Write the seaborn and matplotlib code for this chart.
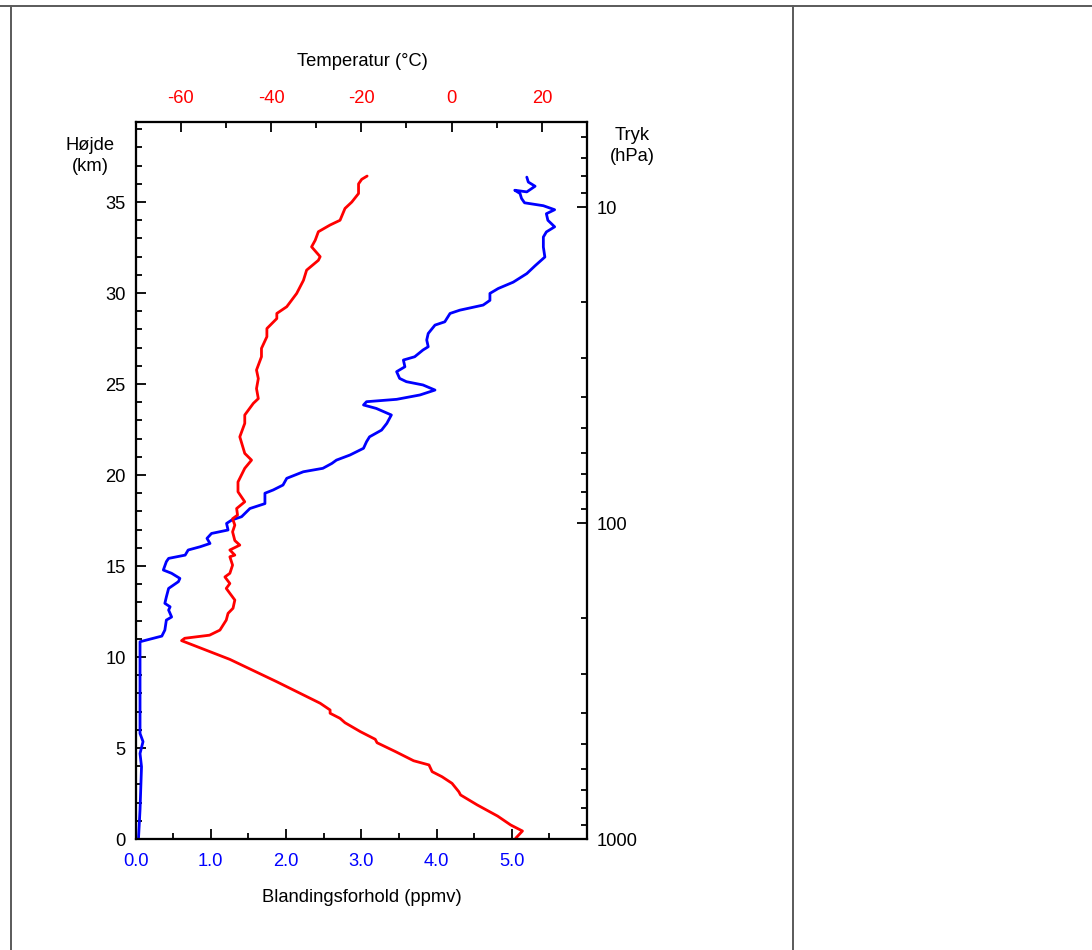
import numpy as np
import pandas as pd
import matplotlib
matplotlib.use("Agg")
import matplotlib.pyplot as plt
from matplotlib.lines import Line2D
from matplotlib.ticker import FixedLocator, NullFormatter
import seaborn as sns

# ---- data ----
temp_alt = [0.04, 0.44, 0.77, 1.26, 1.87, 2.42, 2.6, 3.06, 3.42, 3.70, 4.07, 4.30, 4.80, 5.29, 5.48,
            5.90, 6.39, 6.63, 6.91, 7.09, 7.46, 8.64, 9.87, 10.9, 11.03, 11.2, 11.48, 12.03, 12.4,
            12.68, 13.13, 13.5, 13.77, 14.04, 14.4, 14.6, 15.05, 15.51, 15.6, 15.88, 16.15, 16.4,
            16.88, 17.25, 17.6, 17.8, 18.16, 18.53, 19.08, 19.62, 20.37, 20.82, 21.19, 22.1, 22.84,
            23.3, 23.94, 24.2, 24.75, 25.3, 25.77, 26.5, 26.96, 27.6, 28.05, 28.6, 28.88, 29.25,
            29.98, 30.7, 31.26, 31.8, 32.0, 32.54, 32.9, 33.37, 33.74, 34.0, 34.65, 35.0, 35.47,
            36.0, 36.25, 36.43]
temp_val = [14.2, 15.7, 13.1, 10.2, 5.7, 2.0, 1.6, 0.1, -2.1, -4.3, -5.0, -8.4, -12.4, -16.5, -16.9,
            -20.2, -23.6, -24.7, -26.9, -26.9, -29.1, -38.7, -49.1, -59.8, -59.1, -53.6, -51.3, -49.9,
            -49.5, -48.4, -48.0, -49.1, -49.9, -49.1, -50.2, -49.1, -48.5, -49.1, -48.0, -49.1, -46.9,
            -48.0, -48.5, -48.0, -48.5, -47.4, -47.6, -45.8, -47.3, -47.3, -45.8, -44.3, -45.8, -46.9,
            -45.8, -45.8, -43.9, -42.8, -43.2, -42.8, -43.2, -42.1, -42.1, -40.9, -40.9, -38.7, -38.7,
            -36.5, -34.3, -32.8, -32.1, -29.5, -29.1, -31.0, -30.2, -29.5, -26.9, -24.7, -23.6, -22.1,
            -20.6, -20.6, -19.9, -18.7]

mix_alt = [0.04, 1.6, 3.97, 4.7, 5.35, 5.8, 7.6, 9.47, 10.84, 11.15, 11.48, 12.03, 12.2, 12.58, 12.76,
           12.95, 13.3, 13.77, 14.14, 14.32, 14.6, 14.78, 15.24, 15.42, 15.6, 15.88, 16.06, 16.24,
           16.52, 16.79, 16.98, 17.34, 17.53, 17.71, 18.16, 18.43, 19.0, 19.18, 19.45, 19.82, 20.18,
           20.37, 20.64, 20.82, 21.1, 21.47, 21.83, 22.1, 22.47, 22.84, 23.3, 23.66, 23.85, 24.03,
           24.16, 24.4, 24.67, 24.95, 25.13, 25.31, 25.68, 25.95, 26.32, 26.5, 26.87, 27.05, 27.42,
           27.78, 28.24, 28.42, 28.88, 29.06, 29.34, 29.6, 29.98, 30.25, 30.6, 31.07, 31.5, 31.98,
           32.53, 33.08, 33.36, 33.64, 34.0, 34.36, 34.58, 34.8, 34.96, 35.2, 35.47, 35.65, 35.56,
           35.87, 36.1, 36.37]
mix_val = [0.04, 0.06, 0.08, 0.06, 0.10, 0.06, 0.06, 0.06, 0.06, 0.35, 0.39, 0.41, 0.48, 0.44, 0.46,
           0.39, 0.41, 0.44, 0.57, 0.59, 0.48, 0.37, 0.41, 0.44, 0.66, 0.70, 0.86, 0.99,
           0.95, 1.01, 1.23, 1.21, 1.28, 1.41, 1.52, 1.72, 1.72, 1.83, 1.96, 2.01, 2.23,
           2.49, 2.61, 2.67, 2.85, 3.03, 3.07, 3.11, 3.27, 3.34, 3.40, 3.20, 3.03, 3.07,
           3.47, 3.78, 3.98, 3.82, 3.60, 3.51, 3.47, 3.58, 3.56, 3.71, 3.82, 3.89, 3.87,
           3.89, 3.98, 4.11, 4.18, 4.31, 4.62, 4.71, 4.71, 4.82, 5.02, 5.20, 5.31, 5.44,
           5.42, 5.42, 5.46, 5.57, 5.48, 5.46, 5.57, 5.42, 5.17, 5.13, 5.11, 5.04, 5.20,
           5.31, 5.22, 5.20]

alt_ticks = [0, 5, 10, 15, 20, 25, 30, 35]
mix_ticks = [0.0, 1.0, 2.0, 3.0, 4.0, 5.0]
mix_labels = ["0.0", "1.0", "2.0", "3.0", "4.0", "5.0"]
temp_ticks = [-60, -40, -20, 0, 20]
pres_ticks = [10, 100, 1000]
pres_labels = ["10", "100", "1000"]

# ---- style ----
sns.set_style("ticks")
plt.rcParams["font.family"] = ["Liberation Sans", "DejaVu Sans"]
for k in ("text.color", "axes.labelcolor", "xtick.color", "ytick.color",
          "xtick.labelcolor", "ytick.labelcolor"):
    plt.rcParams[k] = "black"
FS = 13.2

W, H = 1092, 950
fig = plt.figure(figsize=(W / 100, H / 100), dpi=100)
L, R, T, B = 135.5, 587, 122, 839
ax = fig.add_axes([L / W, 1 - B / H, (R - L) / W, (B - T) / H])

mix_df = pd.DataFrame({"mix": mix_val, "alt": mix_alt})
temp_df = pd.DataFrame({"temp": temp_val, "alt": temp_alt})

sns.lineplot(data=mix_df, x="mix", y="alt", sort=False, estimator=None,
             color="#0000ff", lw=2.0, ax=ax, legend=False)
ax.set_xlim(0, 6.0)
ax.set_ylim(0, 39.4)
ax.set_xlabel("")
ax.set_ylabel("")

axt = ax.twiny()
sns.lineplot(data=temp_df, x="temp", y="alt", sort=False, estimator=None,
             color="#ff0000", lw=2.0, ax=axt, legend=False)
axt.set_xlim(-70, 30)
axt.set_ylim(0, 39.4)
axt.set_xlabel("")
axt.set_ylabel("")

axp = ax.twinx()
axp.set_yscale("log")
axp.set_ylim(1000, 10 ** 0.731)
axp.set_ylabel("")

# ticks
ax.set_xticks(mix_ticks)
ax.set_xticklabels(mix_labels)
ax.xaxis.set_minor_locator(FixedLocator(np.arange(0.5, 6.0, 1.0)))
ax.set_yticks(alt_ticks)
ax.set_yticklabels([str(v) for v in alt_ticks])
ax.yaxis.set_minor_locator(FixedLocator(np.arange(0, 40, 1)))
ax.tick_params(axis="x", which="both", direction="in", bottom=True, top=False,
               labelbottom=True, labeltop=False, labelcolor="#0000ff", labelsize=FS, pad=10)
ax.tick_params(axis="y", which="both", direction="in", left=True, right=False,
               labelleft=True, labelright=False, labelcolor="black", labelsize=FS, pad=7)

axt.set_xticks(temp_ticks)
axt.set_xticklabels([str(v) for v in temp_ticks])
axt.xaxis.set_minor_locator(FixedLocator([-70, -50, -30, -10, 10, 30]))
axt.tick_params(axis="x", which="both", direction="in", top=True, bottom=False,
                labeltop=True, labelbottom=False, labelcolor="#ff0000", labelsize=FS, pad=11)
axt.tick_params(axis="y", which="both", left=False, right=False, labelleft=False, labelright=False)

axp.yaxis.set_major_locator(FixedLocator(pres_ticks))
axp.set_yticklabels(pres_labels)
minor_p = [6, 7, 8, 9] + list(range(20, 100, 10)) + list(range(200, 1000, 100))
axp.yaxis.set_minor_locator(FixedLocator(minor_p))
axp.yaxis.set_minor_formatter(NullFormatter())
axp.tick_params(axis="y", which="both", direction="in", right=True, left=False,
                labelright=True, labelleft=False, labelsize=FS, pad=7, labelcolor="black")
axp.tick_params(axis="x", which="both", bottom=False, top=False)

for a in (ax, axt, axp):
    a.tick_params(which="major", length=7.5, width=1.3, color="black")
    a.tick_params(which="minor", length=4.5, width=1.3, color="black")
    for s in a.spines.values():
        s.set_linewidth(1.5)
        s.set_color("black")

# axis titles
def px(x, y):
    return x / W, 1 - y / H

fig.text(*px(90, 156), "Højde\n(km)", ha="center", va="center", fontsize=FS, linespacing=1.3, color="black")
fig.text(*px(632, 146), "Tryk\n(hPa)", ha="center", va="center", fontsize=FS, linespacing=1.3, color="black")
fig.text(*px(362, 62), "Temperatur (°C)", ha="center", va="center", fontsize=FS, color="black")
fig.text(*px(362, 897), "Blandingsforhold (ppmv)", ha="center", va="center", fontsize=FS, color="black")

# surrounding table frame
frame_c = "#5a5a5a"
fig.add_artist(Line2D([0, 1], [1 - 6 / H, 1 - 6 / H], transform=fig.transFigure, color=frame_c, lw=1.4))
fig.add_artist(Line2D([11 / W, 11 / W], [0, 1 - 6 / H], transform=fig.transFigure, color=frame_c, lw=1.4))
fig.add_artist(Line2D([793 / W, 793 / W], [0, 1 - 6 / H], transform=fig.transFigure, color=frame_c, lw=1.4))

fig.savefig("out.png", dpi=100)
